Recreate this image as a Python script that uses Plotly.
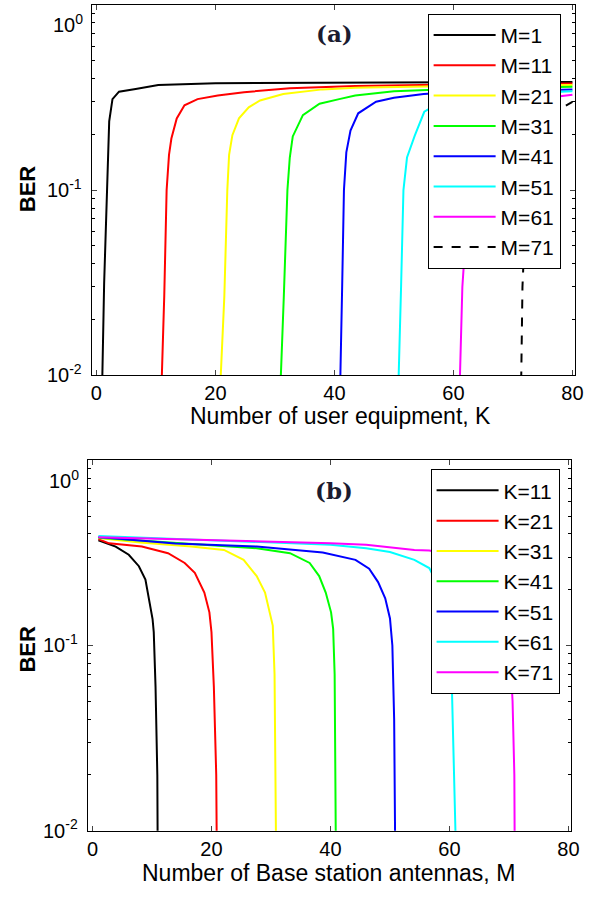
import plotly.graph_objects as go

# ---------------- data (a): BER vs K for several M ----------------
M_labels = ["M=1", "M=11", "M=21", "M=31", "M=41", "M=51", "M=61", "M=71"]
a_colors = ["#000000", "#ff0000", "#ffff00", "#00ff00", "#0000ff", "#00ffff", "#ff00ff", "#000000"]
a_dash = ["solid"] * 7 + ["dash"]

K_M1 = [0.9, 1.0, 1.3, 1.6, 1.9, 2.15, 2.7, 3.8, 6.6, 10.4, 20, 40, 60, 80]
B_M1 = [0.001, 0.01, 0.0315, 0.071, 0.155, 0.235, 0.31, 0.34, 0.352, 0.37, 0.378, 0.382, 0.383, 0.384]
K_M11 = [10.9, 11.0, 11.4, 11.6, 11.8, 12.2, 12.6, 13.5, 14.8, 17, 20.4, 24.8, 32.5, 43.5, 60, 80]
B_M11 = [0.001, 0.01, 0.0267, 0.051, 0.1, 0.155, 0.19, 0.244, 0.287, 0.31, 0.324, 0.338, 0.355, 0.365, 0.372, 0.377]
K_M21 = [20.8, 20.9, 21.5, 21.7, 22.0, 22.3, 22.85, 23.96, 25.6, 27.5, 31.4, 38, 43.5, 60, 80]
B_M21 = [0.001, 0.01, 0.0267, 0.051, 0.1, 0.155, 0.198, 0.244, 0.28, 0.305, 0.33, 0.35, 0.357, 0.365, 0.37]
K_M31 = [30.9, 31.0, 31.5, 31.8, 32.1, 32.5, 33.0, 34.7, 37.5, 40.8, 43.5, 50, 60, 80]
B_M31 = [0.001, 0.01, 0.027, 0.05, 0.1, 0.15, 0.195, 0.254, 0.293, 0.31, 0.324, 0.342, 0.352, 0.362]
K_M41 = [40.9, 41.0, 41.3, 41.6, 42.0, 42.7, 44, 47, 50, 55, 60, 70, 80]
B_M41 = [0.001, 0.01, 0.03, 0.1, 0.16, 0.21, 0.26, 0.3, 0.315, 0.33, 0.338, 0.345, 0.35]
K_M51 = [50.7, 50.8, 51.2, 51.6, 52.2, 53.5, 55.1, 58, 62, 70, 80]
B_M51 = [0.001, 0.01, 0.03, 0.1, 0.15, 0.197, 0.265, 0.3, 0.318, 0.332, 0.342]
K_M61 = [61.0, 61.1, 61.5, 61.8, 62.2, 63, 64.5, 67, 72, 80]
B_M61 = [0.001, 0.01, 0.03, 0.042, 0.1, 0.16, 0.22, 0.27, 0.305, 0.327]
K_M71 = [71.3, 71.4, 71.6, 72.0, 72.5, 73.5, 75, 77.5, 80]
B_M71 = [0.001, 0.01, 0.03, 0.06, 0.1, 0.17, 0.22, 0.27, 0.3]

a_K = [K_M1, K_M11, K_M21, K_M31, K_M41, K_M51, K_M61, K_M71]
a_B = [B_M1, B_M11, B_M21, B_M31, B_M41, B_M51, B_M61, B_M71]

# ---------------- data (b): BER vs M for several K ----------------
K_labels = ["K=11", "K=21", "K=31", "K=41", "K=51", "K=61", "K=71"]
b_colors = ["#000000", "#ff0000", "#ffff00", "#00ff00", "#0000ff", "#00ffff", "#ff00ff"]

M_K11 = [1, 3.9, 6.1, 7.8, 8.9, 9.55, 10.1, 10.3, 10.6, 10.9, 11.0, 11.1]
B_K11 = [0.37, 0.342, 0.309, 0.268, 0.227, 0.178, 0.139, 0.118, 0.06, 0.02, 0.01, 0.001]
M_K21 = [1, 2.8, 8.3, 12.7, 15.5, 17.2, 18.8, 19.65, 20.0, 20.4, 20.8, 21.0, 21.1]
B_K21 = [0.375, 0.356, 0.342, 0.315, 0.279, 0.247, 0.193, 0.151, 0.118, 0.06, 0.02, 0.01, 0.001]
M_K31 = [1, 8, 16.6, 22.1, 25.4, 27.6, 29.0, 29.85, 30.3, 30.6, 30.9, 31.0, 31.1]
B_K31 = [0.38, 0.36, 0.342, 0.328, 0.29, 0.237, 0.193, 0.151, 0.128, 0.07, 0.02, 0.01, 0.001]
M_K41 = [1, 10, 20, 27.6, 33.2, 36.5, 38.1, 39.2, 40.1, 40.45, 40.7, 40.9, 41.0, 41.1]
B_K41 = [0.382, 0.365, 0.35, 0.335, 0.315, 0.279, 0.237, 0.193, 0.151, 0.123, 0.07, 0.02, 0.01, 0.001]
M_K51 = [1, 13.9, 27.6, 38.7, 44.2, 46.5, 48.0, 49.2, 50.0, 50.4, 50.7, 50.9, 51.0, 51.1]
B_K51 = [0.385, 0.355, 0.342, 0.318, 0.29, 0.26, 0.22, 0.18, 0.14, 0.1, 0.04, 0.015, 0.01, 0.001]
M_K61 = [1, 20, 40, 46, 50, 54.1, 56.6, 58.5, 59.8, 60.4, 60.8, 61.0, 61.1]
B_K61 = [0.39, 0.37, 0.35, 0.335, 0.32, 0.29, 0.262, 0.2, 0.13, 0.06, 0.02, 0.01, 0.001]
M_K71 = [1, 20, 40, 46, 54.1, 56.6, 62, 66, 68.5, 70.0, 70.6, 70.9, 71.0, 71.1]
B_K71 = [0.384, 0.372, 0.357, 0.35, 0.328, 0.326, 0.3, 0.25, 0.19, 0.12, 0.05, 0.02, 0.01, 0.001]

b_M = [M_K11, M_K21, M_K31, M_K41, M_K51, M_K61, M_K71]
b_B = [B_K11, B_K21, B_K31, B_K41, B_K51, B_K61, B_K71]

x_ticks = [0, 20, 40, 60, 80]
y_tickvals = [0.01, 0.1, 1]
y_ticktext = ["10<sup>-2</sup>", "10<sup>-1</sup>", ""]

W, H = 611, 898
FONT = "Liberation Sans, Arial, sans-serif"

fig = go.Figure()

for i in range(len(M_labels)):
    fig.add_trace(go.Scatter(
        x=a_K[i], y=a_B[i], mode="lines", name=M_labels[i],
        line=dict(color=a_colors[i], width=2, dash=a_dash[i]),
        xaxis="x", yaxis="y", legend="legend"))

for i in range(len(K_labels)):
    fig.add_trace(go.Scatter(
        x=b_M[i], y=b_B[i], mode="lines", name=K_labels[i],
        line=dict(color=b_colors[i], width=2),
        xaxis="x2", yaxis="y2", legend="legend2"))


def px_x(p):
    return p / W


def px_y(p):
    return 1 - p / H


TICK_FONT = dict(size=20, color="black", family=FONT)

xax = dict(range=[-0.8, 80.5], tickvals=x_ticks, ticks="inside", ticklen=5,
           mirror="ticks", showline=True, linecolor="black", linewidth=1,
           showgrid=False, zeroline=False, tickfont=TICK_FONT, ticklabelstandoff=0)
yax = dict(type="log", range=[-2, 0], tickvals=y_tickvals, ticktext=y_ticktext,
           ticks="inside", ticklen=5, mirror="ticks", showline=True, linecolor="black",
           linewidth=1, showgrid=False, zeroline=False, tickfont=TICK_FONT,
           ticklabelstandoff=5,
           minor=dict(ticks="inside", ticklen=3, dtick="D1", showgrid=False, tickcolor="black"))

LEG_FONT = dict(size=21, color="black", family=FONT)

fig.update_layout(
    width=W, height=H, margin=dict(l=0, r=0, t=0, b=0),
    paper_bgcolor="white", plot_bgcolor="white",
    xaxis=dict(domain=[px_x(92), px_x(583)], anchor="y", **xax),
    yaxis=dict(domain=[px_y(380), px_y(5)], anchor="x", **yax),
    xaxis2=dict(domain=[px_x(88), px_x(579)], anchor="y2", **xax),
    yaxis2=dict(domain=[px_y(841), px_y(466)], anchor="x2", **yax),
    legend=dict(x=px_x(433), y=px_y(14), xanchor="left", yanchor="top",
                bgcolor="white", bordercolor="black", borderwidth=1,
                font=LEG_FONT, itemwidth=62),
    legend2=dict(x=px_x(436), y=px_y(475), xanchor="left", yanchor="top",
                 bgcolor="white", bordercolor="black", borderwidth=1,
                 font=LEG_FONT, itemwidth=62),
    showlegend=True,
)


def ann(x, y, text, font, angle=0, xanchor="center"):
    return dict(x=px_x(x), y=px_y(y), xref="paper", yref="paper", text=text,
                showarrow=False, xanchor=xanchor, yanchor="middle",
                textangle=angle, font=font)


LABEL_FONT = dict(size=23, color="black", family=FONT)
BER_FONT = dict(size=22, color="black", family=FONT)
PANEL_FONT = dict(size=23, color="#1b1b2f", family="DejaVu Serif, serif")

annotations = [
    ann(85, 24, "10<sup>0</sup>", TICK_FONT, xanchor="right"),
    ann(81, 485, "10<sup>0</sup>", TICK_FONT, xanchor="right"),
    ann(27, 191, "<b>BER</b>", BER_FONT, angle=-90),
    ann(27, 657, "<b>BER</b>", BER_FONT, angle=-90),
    ann(345, 421, "Number of user equipment, K", LABEL_FONT),
    ann(332, 884, "Number of Base station antennas, M", LABEL_FONT),
    ann(338, 34, "<b>(a)</b>", PANEL_FONT),
    ann(338, 497, "<b>(b)</b>", PANEL_FONT),
]
fig.update_layout(annotations=annotations)

fig.write_html("out.html")
